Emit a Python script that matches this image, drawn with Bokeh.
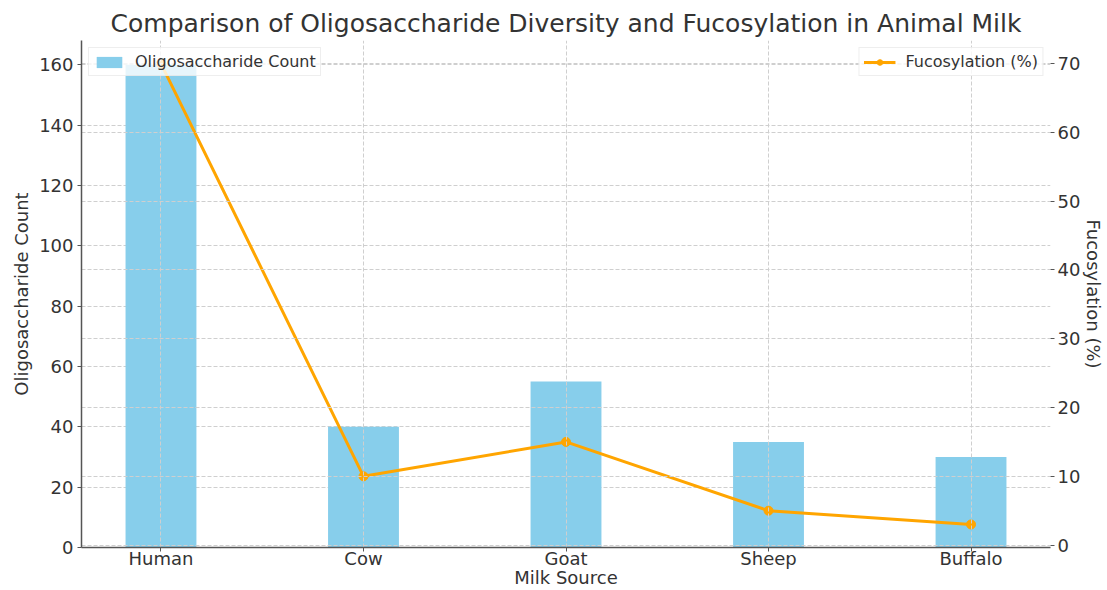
from bokeh.plotting import figure
from bokeh.models import (Range1d, LinearAxis, FixedTicker, Grid,
                          Legend, LegendItem, ColumnDataSource)
from bokeh.embed import file_html
from bokeh.resources import INLINE

categories = ["Human", "Cow", "Goat", "Sheep", "Buffalo"]
oligo_counts = [160, 40, 55, 35, 30]
fucosylation = [70, 10, 15, 5, 3]
left_ticks = [0, 20, 40, 60, 80, 100, 120, 140, 160]
right_ticks = [0, 10, 20, 30, 40, 50, 60, 70]

FONT = "DejaVu Sans"
TXT = "#333333"
GRID = "#cfcfcf"

xs = list(range(len(categories)))
src = ColumnDataSource(dict(x=xs, cnt=oligo_counts, fuc=fucosylation))

X0, X1 = -0.3925, 4.3925
FUC0, FUC1 = -0.35, 73.35

p = figure(width=1107, height=590, output_backend="svg", toolbar_location=None,
           x_range=Range1d(X0, X1), y_range=Range1d(0, 168),
           min_border_left=81, min_border_right=52, min_border_top=40, min_border_bottom=0)
p.extra_y_ranges = {"fuc": Range1d(FUC0, FUC1)}

p.title.text = "Comparison of Oligosaccharide Diversity and Fucosylation in Animal Milk"
p.title.text_font = FONT
p.title.text_font_size = "25px"
p.title.text_font_style = "normal"
p.title.text_color = TXT
p.title.align = "center"
p.title.offset = 0
p.title.standoff = 6

p.outline_line_color = None
p.background_fill_color = "white"
p.border_fill_color = "white"

# grids
p.xgrid.visible = False
p.ygrid.ticker = FixedTicker(ticks=left_ticks)
p.ygrid.grid_line_color = GRID
p.ygrid.grid_line_dash = "4 2"
p.ygrid.grid_line_width = 1

bars = p.vbar(x="x", top="cnt", width=0.35, source=src, fill_color="#87CEEB",
              line_color=None)

xg = Grid(dimension=0, ticker=FixedTicker(ticks=xs), grid_line_color=GRID,
          grid_line_dash="4 2", grid_line_width=1, level="glyph")
rg = Grid(dimension=1, ticker=FixedTicker(ticks=right_ticks), grid_line_color=GRID,
          grid_line_dash="4 2", grid_line_width=1, level="glyph", y_range_name="fuc")
p.add_layout(xg, "center")
p.add_layout(rg, "center")

ln = p.line(x="x", y="fuc", source=src, line_color="#FFA500", line_width=3,
            y_range_name="fuc")
mk = p.scatter(x="x", y="fuc", source=src, size=9, fill_color="#FFA500",
               line_color="#FFA500", y_range_name="fuc")

# axes
def style_axis(ax):
    ax.major_label_text_font = FONT
    ax.major_label_text_font_size = "18px"
    ax.major_label_text_color = TXT
    ax.major_label_text_line_height = 1.0
    ax.axis_label_text_font = FONT
    ax.axis_label_text_font_size = "18px"
    ax.axis_label_text_font_style = "normal"
    ax.axis_label_text_color = TXT
    ax.axis_label_text_line_height = 1.0
    ax.minor_tick_line_color = None
    ax.major_tick_in = 0
    ax.major_tick_out = 4
    ax.major_tick_line_color = "#555555"
    ax.axis_line_color = "#555555"
    ax.axis_line_width = 1.5

xa = p.xaxis[0]
style_axis(xa)
xa.ticker = FixedTicker(ticks=xs)
xa.major_label_overrides = {i: c for i, c in enumerate(categories)}
xa.axis_label = "Milk Source"
xa.major_label_standoff = -4
xa.axis_label_standoff = -5

ya = p.yaxis[0]
style_axis(ya)
ya.ticker = FixedTicker(ticks=left_ticks)
ya.axis_label = "Oligosaccharide Count"
ya.major_label_standoff = 4
ya.axis_label_standoff = 4

# right axis: ticks, tick labels and title
ra = LinearAxis(y_range_name="fuc", axis_label="Fucosylation (%)")
style_axis(ra)
ra.ticker = FixedTicker(ticks=right_ticks)
ra.axis_line_color = None
ra.major_label_standoff = 3
ra.axis_label_standoff = 0
p.add_layout(ra, "right")

def style_legend(lg):
    lg.label_text_font = FONT
    lg.label_text_font_size = "16px"
    lg.label_text_color = TXT
    lg.border_line_color = "#dddddd"
    lg.border_line_width = 1
    lg.background_fill_alpha = 0.8
    lg.padding = 4
    lg.margin = 7
    lg.spacing = 0
    lg.glyph_width = 32
    lg.glyph_height = 14
    lg.label_standoff = 10
    lg.label_height = 14

lg1 = Legend(items=[LegendItem(label="Oligosaccharide Count", renderers=[bars])],
             location="top_left")
lg2 = Legend(items=[LegendItem(label="Fucosylation (%)", renderers=[ln, mk])],
             location="top_right")
style_legend(lg1)
style_legend(lg2)
p.add_layout(lg1, "center")
p.add_layout(lg2, "center")

open("out.html", "w").write(file_html(p, INLINE))
